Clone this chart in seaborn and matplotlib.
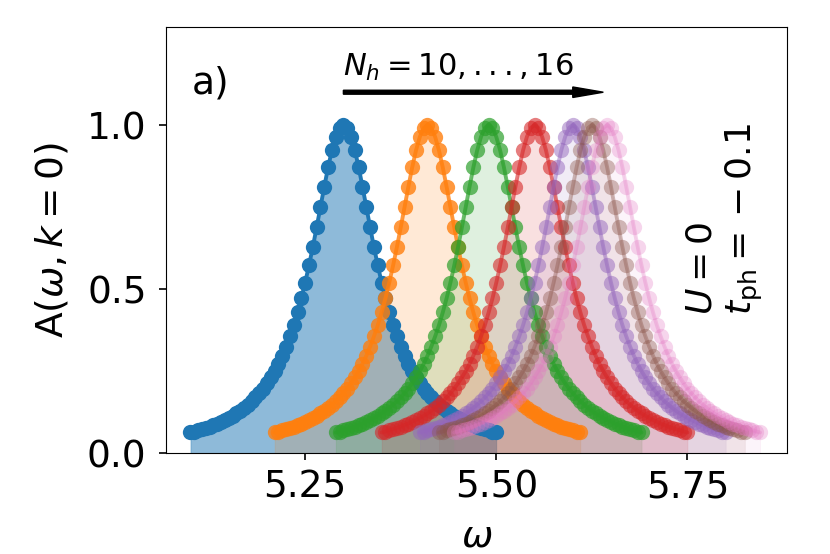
import matplotlib as mpl
mpl.use('agg')
import matplotlib.pyplot as plt
import seaborn as sns
import numpy as np

# Normalised spectral peak (centre -> edge, step 0.005 in omega)
half_profile = [1.000, 0.991, 0.964, 0.923, 0.871, 0.812, 0.750, 0.688, 0.628,
                0.572, 0.520, 0.472, 0.429, 0.390, 0.356, 0.325, 0.297, 0.272,
                0.250, 0.231, 0.213, 0.197, 0.183, 0.170, 0.158, 0.148, 0.138,
                0.129, 0.121, 0.114, 0.107, 0.101, 0.096, 0.090, 0.086, 0.081,
                0.077, 0.073, 0.070, 0.066, 0.063]

# peak centres for N_h = 10 ... 16
peak_centres = [5.300, 5.410, 5.490, 5.550, 5.600, 5.625, 5.645]
n_h = [10, 11, 12, 13, 14, 15, 16]
point_alpha = [1.0, 0.8, 0.7, 0.6, 0.5, 0.4, 0.3]
fill_alpha = [0.5, 0.17, 0.15, 0.14, 0.12, 0.10, 0.08]

profile = np.array(half_profile[::-1] + half_profile[1:])
offsets = np.linspace(-0.2, 0.2, len(profile))

sns.set_style("ticks")
plt.rcParams['font.family'] = ['DejaVu Sans']
plt.rcParams['mathtext.fontset'] = 'dejavusans'
plt.rcParams['axes.edgecolor'] = 'black'
plt.rcParams['axes.labelcolor'] = 'black'
plt.rcParams['text.color'] = 'black'
plt.rcParams['xtick.color'] = 'black'
plt.rcParams['ytick.color'] = 'black'

colors = sns.color_palette("tab10", len(peak_centres))

fig = plt.figure(figsize=(8.3, 5.54), dpi=100)
ax = fig.add_axes([0.2, 0.182, 0.748, 0.770])

for i, c in enumerate(peak_centres):
    w = c + offsets
    ax.fill_between(w, 0, profile, color=colors[i], alpha=fill_alpha[i], linewidth=0.5)
    sns.lineplot(x=w, y=profile, ax=ax, color=colors[i], alpha=point_alpha[i],
                 marker='o', markersize=11, markeredgewidth=0, linewidth=2.8)

ax.set_xlim(5.068, 5.880)
ax.set_ylim(0, 1.3)
ax.set_xticks([5.25, 5.50, 5.75])
ax.set_xticklabels(["5.25", "5.50", "5.75"])
ax.set_yticks([0.0, 0.5, 1.0])
ax.tick_params(labelsize=27, length=5, width=1.2)
ax.tick_params(axis='x', pad=7)
ax.tick_params(axis='y', pad=9)
ax.set_xlabel(r"$\omega$", fontsize=27, labelpad=9)
ax.set_ylabel(r"A($\omega,k=0$)", fontsize=27, labelpad=12)

ax.text(0.041, 0.842, "a)", transform=ax.transAxes, fontsize=27)
ax.arrow(peak_centres[0], 1.10, 0.34, 0, width=0.012, head_width=0.032,
         head_length=0.04, length_includes_head=True, color="black")
ax.text(peak_centres[0], 1.15, r"$N_h=%d,...,%d$" % (n_h[0], n_h[-1]), fontsize=22)
ax.text(0.90, 0.55, "$U=0$\n$t_{\\rm ph}={}-0.1$", transform=ax.transAxes,
        rotation=90, fontsize=26, ha='center', va='center', multialignment='left')

plt.savefig("out.png", dpi=100)
plt.close()
